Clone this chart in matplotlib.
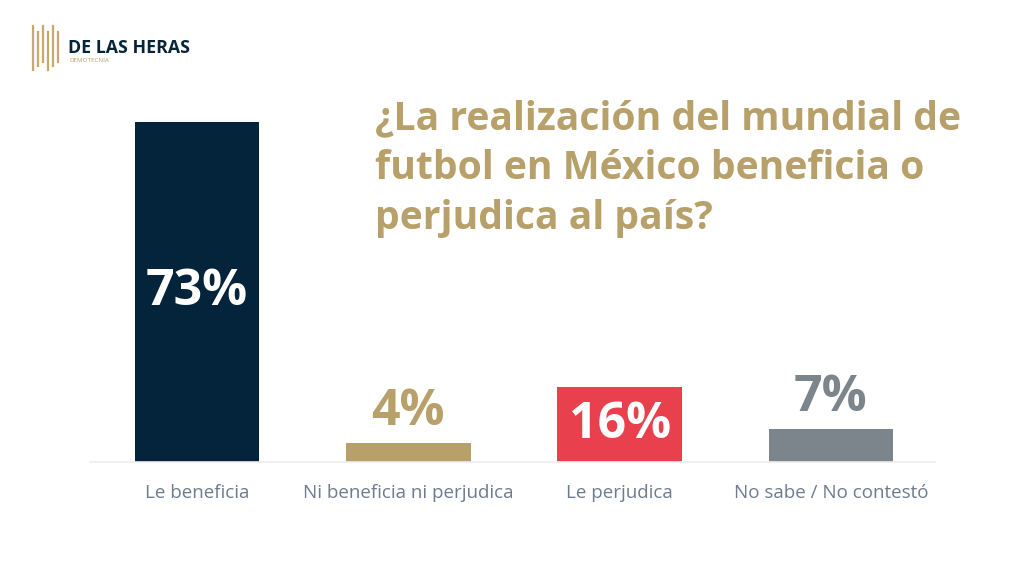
import matplotlib
matplotlib.use("Agg")
import matplotlib.pyplot as plt
from matplotlib.lines import Line2D

plt.rcParams['font.family'] = ['Open Sans', 'DejaVu Sans']

categories = ['Le beneficia', 'Ni beneficia ni perjudica', 'Le perjudica', 'No sabe / No contestó']
values = [73, 4, 16, 7]
bar_colors = ['#03243A', '#B8A06A', '#E8414D', '#7D858C']
title = '¿La realización del mundial de\nfutbol en México beneficia o\nperjudica al país?'

gold = '#B8A06A'
navy = '#03243A'

fig = plt.figure(figsize=(10.24, 5.76), dpi=100)
fig.patch.set_facecolor('white')

ax = fig.add_axes([90/1024, 1-462/576, 845/1024, 373/576])
x = range(len(values))
ax.bar(x, values, width=0.59, color=bar_colors)
ax.set_xlim(-0.507, 3.493)
ax.set_ylim(0, 80)
for s in ['top', 'right', 'left']:
    ax.spines[s].set_visible(False)
ax.spines['bottom'].set_color('#EEEEEE')
ax.spines['bottom'].set_linewidth(1.2)
ax.set_yticks([])
ax.set_xticks(list(x))
ax.set_xticklabels(categories, fontsize=13.5, color='#6E7B8E')
ax.tick_params(axis='x', length=0, pad=16)

# value labels
for i, v in enumerate(values):
    if v > 10:
        ax.text(i, v/2, '%d%%' % v, ha='center', va='center', color='white',
                fontsize=36, fontweight='bold')
    else:
        ax.annotate('%d%%' % v, (i, v), xytext=(0, 13), textcoords='offset points',
                    ha='center', va='baseline', color=bar_colors[i], fontsize=36, fontweight='bold')

# title
fig.text(375/1024, 1-99/576, title, ha='left', va='top', color=gold,
         fontsize=28.2, fontweight='bold', linespacing=1.36)

# logo
for k in range(6):
    xx = (33 + k*5)/1024
    y0 = 1-(70 - (k % 3)*4)/576
    y1 = 1-(26 + (k % 2)*6)/576
    fig.add_artist(Line2D([xx, xx], [y0, y1], color='#C9A96B', lw=1.6))
fig.text(68/1024, 1-48/576, 'DE LAS HERAS', ha='left', va='center', color=navy,
         fontsize=12.8, fontweight='bold')
fig.text(69/1024, 1-61/576, 'DEMOTECNIA', ha='left', va='center', color=gold, fontsize=4.5)

fig.savefig('out.png', dpi=100)
